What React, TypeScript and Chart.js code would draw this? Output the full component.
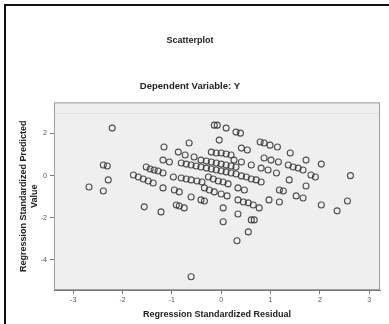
import React, { useEffect, useRef } from "react";
import { Chart, registerables } from "chart.js";
Chart.register(...registerables);

const residual = [
  -2.21, -2.39, -2.31, -2.29, -2.68, -2.39, -1.56, -1.22, -0.91, -0.85, -0.75, -0.61,
  -1.16, -0.65, -0.04, 0.04, 0.04, 0.34, 0.61, 0.67, 0.55, 0.32, 2.03, 2.35, 2.56, 2.62,
  2.03, 1.72, 1.72, 1.52, 1.66, 0.97, 1.18, 1.38, 1.82, 1.91,
  -0.14, -0.08, 0.1, 0.3, 0.39, 0.79, 0.87, 0.99, 1.14, 1.4,
  -0.87, -0.73, -0.55, -0.2, -0.1, 0.0, 0.1, 0.2, 0.41, 0.53, 0.26, 0.41, 0.61, 0.87, 1.01,
  1.16, 1.36, 1.46, 1.56, 1.66, 0.81, 0.95, 1.12, 1.18, 1.26,
  -1.18, -1.05, -1.52, -1.44, -1.36, -1.28, -1.18,
  -0.81, -0.71, -0.61, -0.51, -0.41, -0.3, -0.2, -0.1, 0.0, 0.1, 0.2, 0.3, 0.41, 0.51, 0.61, 0.71, 0.81,
  -0.41, -0.3, -0.2, -0.1, 0.0, 0.1, 0.2, 0.3,
  -0.26, -0.16, -0.06, 0.04, 0.14, 0.34, 0.47,
  -0.97, -0.81, -0.71, -0.61, -0.49, -0.39,
  -1.78, -1.68, -1.58, -1.48, -1.38,
  -1.18, -0.95, -0.85, -0.61, -0.41, -0.34,
  -0.34, -0.24, -0.14, 0.0, 0.12,
  0.34, 0.45, 0.55, 0.65, 0.77,
];
const predicted = [
  2.26, 0.51, 0.46, -0.2, -0.54, -0.73, -1.48, -1.72, -1.39, -1.44, -1.53, -4.8,
  1.36, 1.55, 1.69, -1.53, -2.19, -1.82, -2.1, -2.1, -2.67, -3.09, -1.39, -1.67, -1.2, 0.0,
  0.55, 0.74, -0.49, -0.96, -1.06, -1.15, -1.25, -0.2, 0.03, -0.06,
  2.4, 2.4, 2.26, 2.07, 2.02, 1.6, 1.55, 1.45, 1.36, 1.08,
  1.12, 0.98, 0.89, 1.12, 1.08, 1.08, 1.03, 0.98, 1.31, 1.22, 0.74, 0.65, 0.51, 0.84, 0.74,
  0.65, 0.51, 0.41, 0.36, 0.27, 0.36, 0.27, 0.13, -0.68, -0.73,
  0.74, 0.65, 0.41, 0.32, 0.27, 0.22, 0.13,
  0.6, 0.55, 0.51, 0.46, 0.41, 0.36, 0.32, 0.27, 0.22, 0.18, 0.13, 0.08, -0.01, -0.06, -0.16, -0.2, -0.3,
  0.74, 0.7, 0.65, 0.6, 0.55, 0.51, 0.46, 0.41,
  -0.06, -0.16, -0.25, -0.3, -0.39, -0.58, -0.68,
  -0.06, -0.11, -0.16, -0.2, -0.25, -0.3,
  0.03, -0.06, -0.16, -0.25, -0.35,
  -0.58, -0.68, -0.77, -1.01, -1.15, -1.2,
  -0.58, -0.68, -0.77, -0.87, -0.96,
  -1.15, -1.25, -1.29, -1.39, -1.53,
];
const xTicks = [-3, -2, -1, 0, 1, 2, 3];
const yTicks = [-4, -2, 0, 2];
const chartTitle = "Scatterplot";
const chartSubtitle = "Dependent Variable: Y";
const xTitle = "Regression Standardized Residual";
const yTitle = ["Regression Standardized Predicted", "Value"];

const FONT = "'Liberation Sans', Arial, sans-serif";

const plotFrame = {
  id: "plotFrame",
  beforeDatasetsDraw(chart: any) {
    const { ctx, chartArea } = chart;
    const { left, top, right, bottom } = chartArea;
    ctx.save();
    ctx.fillStyle = "#efefef";
    ctx.fillRect(left, top, right - left, bottom - top);
    const yPix = chart.scales.y.getPixelForValue(3);
    ctx.strokeStyle = "#e0e0e0";
    ctx.lineWidth = 1;
    ctx.beginPath();
    ctx.moveTo(left, Math.round(yPix) + 0.5);
    ctx.lineTo(right, Math.round(yPix) + 0.5);
    ctx.stroke();
    ctx.strokeStyle = "#a0a0a0";
    ctx.strokeRect(left + 0.5, top + 0.5, right - left - 1, bottom - top - 1);
    ctx.restore();
  },
};

export default function App() {
  const ref = useRef<HTMLCanvasElement | null>(null);
  useEffect(() => {
    if (!ref.current) return;
    const points = residual.map((x, i) => ({ x, y: predicted[i] }));
    const chart = new Chart(ref.current, {
      type: "scatter",
      data: {
        datasets: [
          {
            data: points,
            pointRadius: 3,
            pointBorderWidth: 1.1,
            borderColor: "rgba(50,50,50,0.85)",
            backgroundColor: "rgba(0,0,0,0)",
          },
        ],
      },
      options: {
        animation: false,
        responsive: false,
        events: [],
        layout: { padding: { left: 0, right: 20, top: 0, bottom: 0 } },
        plugins: {
          legend: { display: false },
          tooltip: { enabled: false },
          title: {
            display: true,
            text: chartTitle,
            color: "#222",
            font: { family: FONT, size: 9, weight: "bold" },
            padding: { top: 35.6, bottom: 34.2 },
          },
          subtitle: {
            display: true,
            text: chartSubtitle,
            color: "#222",
            font: { family: FONT, size: 9.5, weight: "bold" },
            padding: { top: 0, bottom: 10.4 },
          },
        },
        scales: {
          x: {
            type: "linear",
            min: -3.39,
            max: 3.22,
            afterBuildTicks: (s: any) => {
              s.ticks = xTicks.map((v) => ({ value: v }));
            },
            afterFit: (s: any) => {
              s.height = 34;
            },
            grid: { drawOnChartArea: false, tickLength: 4, color: "#777" },
            border: { display: true, color: "#777" },
            ticks: { color: "#555", font: { family: FONT, size: 7 }, padding: 2, maxRotation: 0 },
            title: {
              display: true,
              text: xTitle,
              color: "#222",
              font: { family: FONT, size: 9, weight: "bold" },
              padding: { top: 0, bottom: 3.6 },
            },
          },
          y: {
            type: "linear",
            min: -5.43,
            max: 3.48,
            afterBuildTicks: (s: any) => {
              s.ticks = yTicks.map((v) => ({ value: v }));
            },
            afterFit: (s: any) => {
              s.width = 54;
            },
            grid: { drawOnChartArea: false, tickLength: 4, color: "#777" },
            border: { display: true, color: "#777" },
            ticks: { color: "#555", font: { family: FONT, size: 7 }, padding: 3 },
            title: {
              display: true,
              text: yTitle,
              color: "#222",
              font: { family: FONT, size: 9, weight: "bold" },
              padding: { top: 18.5, bottom: 0 },
            },
          },
        },
      },
      plugins: [plotFrame],
    });
    return () => chart.destroy();
  }, []);
  return (
    <div>
      <div
        style={{
          position: "fixed",
          left: 4,
          top: 4,
          width: 420,
          height: 360,
          borderLeft: "2px solid #111",
          borderTop: "2px solid #111",
          pointerEvents: "none",
          zIndex: 2,
        }}
      />
      <canvas
        ref={ref}
        width={400}
        height={324}
        style={{ position: "fixed", left: 0, top: 0, width: 400, height: 324, background: "#fff" }}
      />
    </div>
  );
}
